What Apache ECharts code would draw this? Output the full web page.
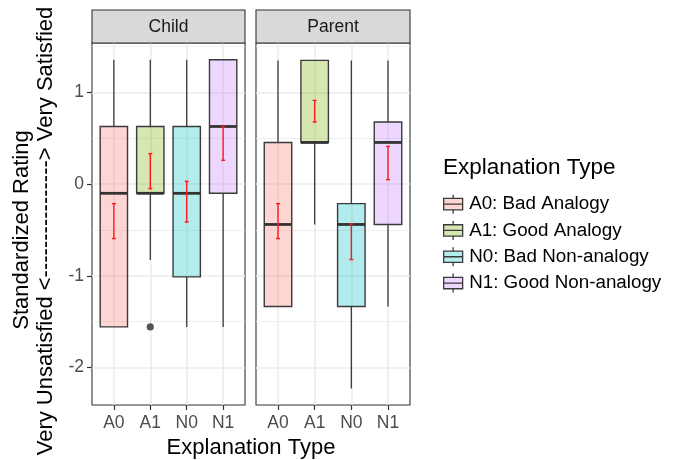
<!DOCTYPE html>
<html><head><meta charset="utf-8">
<script src="https://cdn.jsdelivr.net/npm/echarts@6/dist/echarts.min.js"></script>
<style>html,body{margin:0;padding:0;background:#fff}#c{width:678px;height:460px}</style>
</head><body><div id="c"></div>
<script>
const categories = ['A0', 'A1', 'N0', 'N1'];
const typeNames = ['A0: Bad Analogy', 'A1: Good Analogy', 'N0: Bad Non-analogy', 'N1: Good Non-analogy'];
const facets = ['Child', 'Parent'];
const yTicks = [-2, -1, 0, 1];
const yMinorLines = [-1.5, -0.5, 0.5, 1.5];

// Child panel
const childLow     = [-1.558, -0.829, -1.558, -1.558];
const childQ1      = [-1.558, -0.100, -1.012, -0.100];
const childMedian  = [-0.100, -0.100, -0.100,  0.629];
const childQ3      = [ 0.629,  0.629,  0.629,  1.358];
const childHigh    = [ 1.358,  1.358,  1.358,  1.358];
const childErrLow  = [-0.594, -0.049, -0.413,  0.260];
const childErrHigh = [-0.213,  0.333,  0.030,  0.630];
const childOutliers = [[], [-1.558], [], []];

// Parent panel
const parentLow     = [-1.335, -0.440, -2.230, -1.335];
const parentQ1      = [-1.335,  0.455, -1.335, -0.440];
const parentMedian  = [-0.440,  0.455, -0.440,  0.455];
const parentQ3      = [ 0.455,  1.350, -0.213,  0.678];
const parentHigh    = [ 1.350,  1.350,  1.350,  1.350];
const parentErrLow  = [-0.594,  0.678, -0.823,  0.049];
const parentErrHigh = [-0.213,  0.914, -0.434,  0.412];
const parentOutliers = [[], [], [], []];

const typeColors = ['#F8766D', '#7CAE00', '#00BFC4', '#C77CFF'];

const FONT = "'Liberation Sans', Arial, Helvetica, sans-serif";
function alpha(hex, a) {
  const n = parseInt(hex.slice(1), 16);
  return 'rgba(' + (n >> 16 & 255) + ',' + (n >> 8 & 255) + ',' + (n & 255) + ',' + a + ')';
}
const fills = typeColors.map(c => alpha(c, 0.3));

const panelData = [
  {low: childLow, q1: childQ1, med: childMedian, q3: childQ3, high: childHigh, eLo: childErrLow, eHi: childErrHigh, out: childOutliers},
  {low: parentLow, q1: parentQ1, med: parentMedian, q3: parentQ3, high: parentHigh, eLo: parentErrLow, eHi: parentErrHigh, out: parentOutliers}
];

const gridsLayout = [
  {left: 92, top: 43, width: 153, height: 362},
  {left: 256, top: 43, width: 154, height: 362}
];

function makeRender(outliers, fill) {
  return function (params, api) {
    const x = api.value(0);
    const c = v => api.coord([x, v]);
    const half = api.size([0.75, 0])[0] / 2;
    const capHalf = api.size([0.11, 0])[0] / 2;
    const pLow = c(api.value(1)), pQ1 = c(api.value(2)), pMed = c(api.value(3)),
          pQ3 = c(api.value(4)), pHigh = c(api.value(5)), pELo = c(api.value(6)), pEHi = c(api.value(7));
    const cx = pMed[0];
    const line = '#3a3a3a';
    const ch = [];
    ch.push({type: 'line', shape: {x1: cx, y1: pQ3[1], x2: cx, y2: pHigh[1]}, style: {stroke: line, lineWidth: 1.3}});
    ch.push({type: 'line', shape: {x1: cx, y1: pLow[1], x2: cx, y2: pQ1[1]}, style: {stroke: line, lineWidth: 1.3}});
    ch.push({type: 'rect', shape: {x: cx - half, y: pQ3[1], width: 2 * half, height: pQ1[1] - pQ3[1]},
             style: {fill: fill, stroke: line, lineWidth: 1.4}});
    ch.push({type: 'line', shape: {x1: cx - half, y1: pMed[1], x2: cx + half, y2: pMed[1]}, style: {stroke: '#333333', lineWidth: 2.8}});
    (outliers || []).forEach(v => {
      const p = c(v);
      ch.push({type: 'circle', shape: {cx: p[0], cy: p[1], r: 3.6}, style: {fill: '#555555'}});
    });
    const red = '#FF1A1A';
    ch.push({type: 'line', shape: {x1: cx, y1: pELo[1], x2: cx, y2: pEHi[1]}, style: {stroke: red, lineWidth: 1.4}});
    ch.push({type: 'line', shape: {x1: cx - capHalf, y1: pELo[1], x2: cx + capHalf, y2: pELo[1]}, style: {stroke: red, lineWidth: 1.4}});
    ch.push({type: 'line', shape: {x1: cx - capHalf, y1: pEHi[1], x2: cx + capHalf, y2: pEHi[1]}, style: {stroke: red, lineWidth: 1.4}});
    return {type: 'group', children: ch};
  };
}

const series = [];
facets.forEach((f, fi) => {
  const d = panelData[fi];
  categories.forEach((cat, t) => {
    const s = {
      type: 'custom',
      name: typeNames[t],
      xAxisIndex: fi,
      yAxisIndex: fi,
      z: 3,
      renderItem: makeRender(d.out[t], fills[t]),
      encode: {x: 0, y: [1, 2, 3, 4, 5, 6, 7]},
      itemStyle: {color: fills[t], borderColor: '#333333'},
      data: [[t + 1, d.low[t], d.q1[t], d.med[t], d.q3[t], d.high[t], d.eLo[t], d.eHi[t]]]
    };
    if (t === 0) {
      s.markLine = {
        silent: true, symbol: 'none', z: 1, animation: false,
        label: {show: false},
        lineStyle: {color: '#EBEBEB', width: 0.8, type: 'solid'},
        emphasis: {disabled: true},
        data: yMinorLines.map(v => ({yAxis: v}))
      };
    }
    series.push(s);
  });
});

const keyPath = 'path://M10,0V4M0,4H20V16H0ZM0,10H20M10,16V20';

const graphics = [];
facets.forEach((f, fi) => {
  const g = gridsLayout[fi];
  graphics.push({type: 'rect', shape: {x: g.left, y: 10, width: g.width, height: 33},
    style: {fill: '#D9D9D9', stroke: '#333333', lineWidth: 1.1}, z: 10});
  graphics.push({type: 'text', x: g.left + g.width / 2, y: 27, z: 11,
    style: {text: f, fill: '#1A1A1A', font: '17.5px ' + FONT, align: 'center', verticalAlign: 'middle'}});
});
graphics.push({type: 'text', x: 251, y: 448, style: {text: 'Explanation Type', fill: '#000', font: '22px ' + FONT, align: 'center', verticalAlign: 'middle'}});
graphics.push({type: 'text', x: 22, y: 230, rotation: Math.PI / 2,
  style: {text: 'Standardized Rating', fill: '#000', font: '22px ' + FONT, align: 'center', verticalAlign: 'middle'}});
graphics.push({type: 'text', x: 46, y: 231, rotation: Math.PI / 2,
  style: {text: 'Very Unsatisfied <----------------> Very Satisfied', fill: '#000', font: '22px ' + FONT, align: 'center', verticalAlign: 'middle'}});

const option = {
  animation: false,
  backgroundColor: '#ffffff',
  textStyle: {fontFamily: FONT},
  title: {text: 'Explanation Type', left: 443, top: 156, padding: 0,
    textStyle: {fontSize: 22.5, fontWeight: 'normal', color: '#000', fontFamily: FONT}},
  legend: {
    orient: 'vertical', left: 443, top: 194, padding: 0,
    itemWidth: 22, itemHeight: 19, itemGap: 6, selectedMode: false,
    textStyle: {fontSize: 18.8, color: '#000', lineHeight: 19, fontFamily: FONT},
    data: typeNames.map((n, i) => ({name: n, icon: keyPath,
      itemStyle: {color: fills[i], borderColor: '#3a3a3a', borderWidth: 1.3}}))
  },
  grid: gridsLayout.map(g => Object.assign({show: true, borderColor: '#333333', borderWidth: 1.1,
    backgroundColor: 'transparent', containLabel: false}, g)),
  xAxis: facets.map((f, fi) => ({
    gridIndex: fi, type: 'value', min: 0.4, max: 4.6, position: 'bottom',
    axisLine: {show: false, onZero: false},
    axisTick: {show: true, customValues: [1, 2, 3, 4], length: 5, lineStyle: {color: '#333333', width: 1.2}},
    axisLabel: {customValues: [1, 2, 3, 4], formatter: v => categories[Math.round(v) - 1] || '',
      color: '#4D4D4D', fontSize: 17.5, margin: 9, fontFamily: FONT},
    splitLine: {show: true, lineStyle: {color: '#EBEBEB', width: 1.5}}
  })),
  yAxis: facets.map((f, fi) => ({
    gridIndex: fi, type: 'value', min: -2.41, max: 1.54, position: 'left',
    axisLine: {show: false, onZero: false},
    axisTick: {show: fi === 0, customValues: yTicks, length: 5, lineStyle: {color: '#333333', width: 1.2}},
    axisLabel: {show: fi === 0, customValues: yTicks, color: '#4D4D4D', fontSize: 17.5, margin: 8, fontFamily: FONT},
    splitLine: {show: true, lineStyle: {color: '#EBEBEB', width: 1.5}}
  })),
  graphic: graphics,
  series: series
};

const chart = echarts.init(document.getElementById('c'), null, {renderer: 'canvas'});
chart.setOption(option);
</script>
</body></html>
